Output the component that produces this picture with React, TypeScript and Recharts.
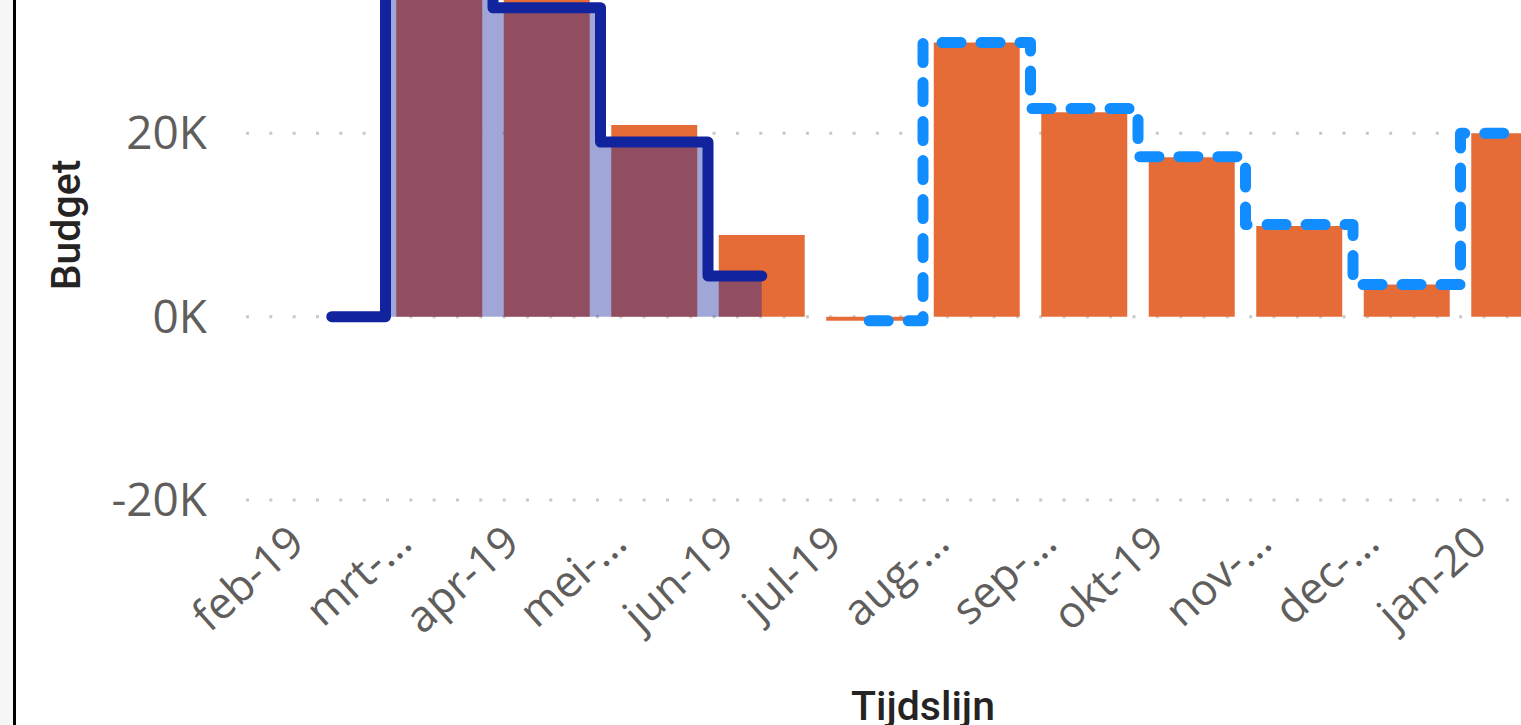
import React from 'react';
import { ComposedChart, Bar, Area, Line, XAxis, YAxis, CartesianGrid, Label } from 'recharts';

const months = ['feb-19', 'mrt-…', 'apr-19', 'mei-…', 'jun-19', 'jul-19', 'aug-…', 'sep-…', 'okt-19', 'nov-…', 'dec-…', 'jan-20'];
const kosten: (number | null)[] = [null, 38000, 37000, 20900, 8900, -450, 29900, 22300, 17400, 9900, 3500, 20000];
const budgetRealisatie: (number | null)[] = [0, 38000, 33700, 19050, 4450, null, null, null, null, null, null, null];
const budgetPrognose: (number | null)[] = [null, null, null, null, null, -450, 29900, 22700, 17450, 10050, 3500, 20000];
const yTicks = [-20000, 0, 20000];

const data = months.map((m, i) => ({
  month: m,
  kosten: kosten[i],
  realisatie: budgetRealisatie[i],
  prognose: budgetPrognose[i],
}));

const TICK_FONT = '"Open Sans", sans-serif';
const TITLE_FONT = 'Roboto, sans-serif';

const XTick = (props: any) => {
  const { x, y, payload } = props;
  const ax = x - 25;
  const ay = y + 46;
  return (
    <text
      x={ax}
      y={ay}
      textAnchor="end"
      transform={`rotate(-42 ${ax} ${ay})`}
      fill="#605E5C"
      fontFamily={TICK_FONT}
      fontSize={44}
    >
      {payload.value}
    </text>
  );
};

const YTick = (props: any) => {
  const { y, payload } = props;
  const v = payload.value as number;
  return (
    <text x={207} y={y + 16} textAnchor="end" fill="#605E5C" fontFamily={TICK_FONT} fontSize={46}>
      {`${v / 1000}K`}
    </text>
  );
};

export default function App() {
  return (
    <div style={{ position: 'fixed', left: 0, top: 0, width: 1521, height: 725, overflow: 'hidden', background: '#ffffff' }}>
      <div style={{ position: 'absolute', left: 0, top: 0, width: 13, height: 725, background: '#f6f6f6' }} />
      <div style={{ position: 'absolute', left: 13, top: 0, width: 3, height: 725, background: '#000000' }} />
      <div style={{ position: 'absolute', left: 0, top: -60 }}>
        <ComposedChart width={1600} height={785} data={data} margin={{ top: 10, right: 0, bottom: 0, left: 0 }}>
          <CartesianGrid vertical={false} stroke="#c8c8c8" strokeWidth={3} strokeDasharray="3 20.33" />
          <XAxis
            dataKey="month"
            height={225}
            padding={{ left: 32, right: 32 }}
            axisLine={false}
            tickLine={false}
            tickSize={0}
            tickMargin={0}
            interval={0}
            tick={<XTick />}
          >
            <Label
              content={(p: any) => {
                const vb = p.viewBox || { x: 246, width: 1354 };
                return (
                  <text x={vb.x + vb.width / 2} y={780} textAnchor="middle" fill="#252423" fontFamily={TITLE_FONT} fontSize={41} fontWeight={500}>
                    Tijdslijn
                  </text>
                );
              }}
            />
          </XAxis>
          <YAxis
            width={246}
            domain={[-20000, 40000]}
            ticks={yTicks}
            axisLine={false}
            tickLine={false}
            tickSize={0}
            tick={<YTick />}
          >
            <Label
              content={() => (
                <text x={80} y={285} transform="rotate(-90 80 285)" textAnchor="middle" fill="#252423" fontFamily={TITLE_FONT} fontSize={41} fontWeight={500}>
                  Budget
                </text>
              )}
            />
          </YAxis>
          <Bar dataKey="kosten" fill="#E66C37" barCategoryGap={11} isAnimationActive={false} zIndex={300} />
          <Area
            type="step"
            dataKey="realisatie"
            stroke="#12239E"
            strokeWidth={11}
            strokeLinecap="round"
            strokeLinejoin="round"
            fill="#12239E"
            fillOpacity={0.4}
            isAnimationActive={false}
            zIndex={350}
            dot={false}
            activeDot={false}
          />
          <Line
            type="step"
            dataKey="prognose"
            stroke="#118DFF"
            strokeWidth={11}
            strokeDasharray="19 20"
            strokeLinecap="round"
            strokeLinejoin="round"
            dot={false}
            activeDot={false}
            isAnimationActive={false}
            zIndex={400}
          />
        </ComposedChart>
      </div>
    </div>
  );
}
